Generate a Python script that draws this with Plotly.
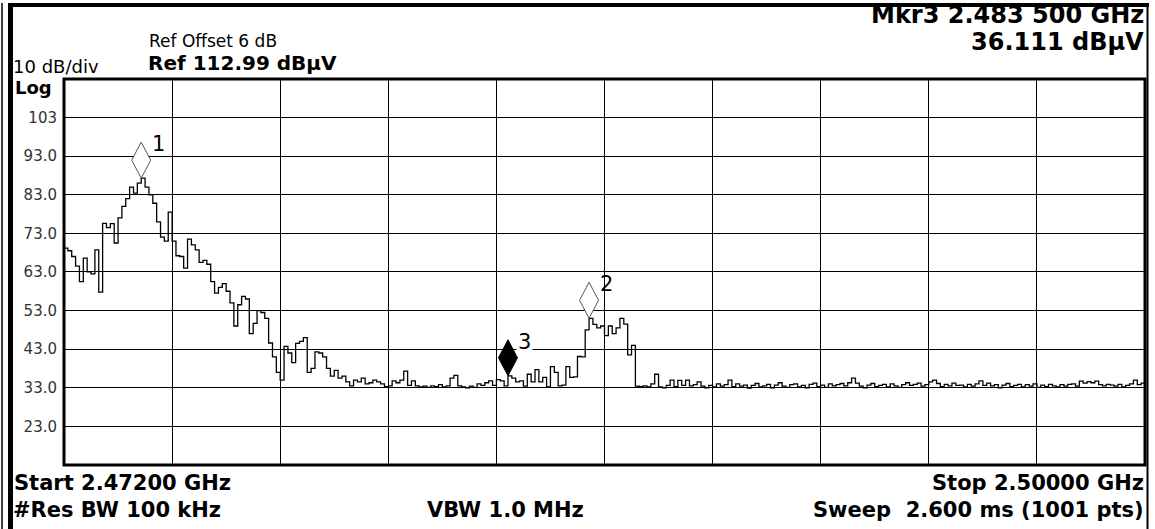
import numpy as np
import plotly.graph_objects as go

# ---------------- data ----------------
START_GHZ = 2.472
STOP_GHZ = 2.500
REF_LEVEL = 112.99
DB_PER_DIV = 10.0
N_DIV = 10

# trace level (dBuV), read every 0.1 MHz from the screen, 2472.0 ... 2500.0 MHz
level_dbuv = [
    69.2, 68.5, 67.0, 64.5, 60.5, 66.6, 63.0, 62.5, 68.7, 57.8,
    75.6, 74.5, 75.5, 70.5, 77.0, 80.0, 82.0, 85.0, 83.4, 86.0,
    87.3, 85.0, 83.0, 80.8, 76.0, 72.0, 71.0, 78.5, 71.0, 67.2,
    67.0, 64.0, 71.5, 70.0, 68.7, 65.5, 66.0, 65.0, 60.5, 57.5,
    59.0, 60.0, 58.0, 55.0, 49.0, 54.5, 56.7, 56.0, 47.0, 49.7,
    53.0, 52.5, 51.0, 44.6, 41.0, 37.0, 35.0, 43.7, 42.0, 39.5,
    44.5, 45.0, 46.0, 37.0, 38.0, 42.3, 42.0, 41.0, 38.0, 36.0,
    37.5, 35.5, 36.0, 34.5, 33.5, 35.0, 34.5, 35.5, 34.0, 34.3,
    35.0, 34.5, 34.0, 33.3, 33.5, 34.8, 34.3, 35.0, 37.3, 33.6,
    34.8, 33.5, 33.2, 33.4, 33.1, 33.5, 33.3, 33.8, 33.2, 33.5,
    35.5, 36.2, 33.5, 33.2, 33.0, 33.4, 33.1, 34.0, 33.6, 34.3,
    34.8, 33.6, 35.1, 34.8, 33.5, 36.1, 35.5, 34.5, 34.8, 33.4,
    36.5, 34.5, 37.7, 34.5, 35.7, 33.2, 38.5, 37.0, 33.5, 33.7,
    38.5, 35.7, 35.8, 41.1, 41.0, 48.0, 51.0, 49.4, 48.5, 49.0,
    46.5, 49.0, 47.0, 48.5, 51.0, 49.5, 41.5, 44.0, 33.4, 33.3,
    33.5, 33.2, 34.0, 36.5, 33.2, 33.0, 33.6, 35.0, 33.3, 34.9,
    33.6, 35.0, 33.5, 33.8, 34.5, 33.4, 33.0, 33.6, 33.2, 34.0,
    33.4, 33.8, 35.0, 33.3, 34.0, 33.4, 33.7, 32.9, 33.6, 34.1,
    33.2, 33.5, 33.9, 33.0, 33.7, 34.3, 33.4, 33.1, 33.8, 34.0,
    33.2, 33.6, 33.0, 33.9, 34.2, 33.3, 33.7, 33.1, 34.0, 33.5,
    33.8, 34.1, 33.5, 34.3, 35.5, 34.2, 33.4, 33.0, 33.7, 34.1,
    33.3, 33.6, 33.9, 33.2, 34.0, 33.5, 33.1, 33.8, 34.3, 33.6,
    33.9, 34.2, 33.4, 33.8, 34.5, 35.0, 34.1, 33.3, 33.9, 33.5,
    34.2, 33.6, 33.7, 33.2, 33.9, 33.4, 34.0, 34.8, 33.6, 34.2,
    33.5, 33.8, 33.0, 33.7, 34.1, 33.3, 33.6, 33.9, 33.2, 33.8,
    33.4, 34.0, 33.1, 33.7, 33.3, 33.9, 33.5, 33.2, 33.8, 33.4,
    33.9, 34.0, 33.4, 34.7, 34.2, 34.6, 34.3, 34.7, 33.8, 33.5,
    33.9, 33.7, 33.4, 33.9, 33.2, 33.6, 34.0, 35.0, 33.8, 34.2,
    34.4,
]
freq_ghz = np.round(np.linspace(START_GHZ, STOP_GHZ, len(level_dbuv)), 5)

marker_ids = ["1", "2", "3"]
marker_freq_ghz = [2.4740, 2.4856, 2.4835]
marker_level_dbuv = [87.3, 51.0, 36.111]
marker_filled = [False, False, True]

ytick_vals = [103, 93, 83, 73, 63, 53, 43, 33, 23]
ytick_text = ["103", "93.0", "83.0", "73.0", "63.0", "53.0", "43.0", "33.0", "23.0"]

# ---------------- layout geometry ----------------
W, H = 1155, 529
PL, PR, PT, PB = 64, 1145, 79, 465      # plot area in pixels
y_min = REF_LEVEL - DB_PER_DIV * N_DIV
y_max = REF_LEVEL
x_grid = [START_GHZ + k * (STOP_GHZ - START_GHZ) / N_DIV for k in range(1, N_DIV)]

ghz_per_px = (STOP_GHZ - START_GHZ) / (PR - PL)
db_per_px = (y_max - y_min) / (PB - PT)


def px(x):
    return (x - PL) / (PR - PL)


def py(y):
    return (PB - y) / (PB - PT)


fig = go.Figure()

# trace
fig.add_trace(go.Scatter(
    x=freq_ghz, y=level_dbuv, mode="lines",
    line=dict(color="black", width=1.3, shape="hv"),
    hoverinfo="skip", showlegend=False,
))

# diamond markers
half_w = 9.5 * ghz_per_px
full_h = 36 * db_per_px
for mid, f, lv, filled in zip(marker_ids, marker_freq_ghz, marker_level_dbuv, marker_filled):
    xs = [f, f + half_w, f, f - half_w, f]
    ys = [lv, lv + full_h / 2, lv + full_h, lv + full_h / 2, lv]
    fig.add_trace(go.Scatter(
        x=xs, y=ys, mode="lines", fill="toself",
        fillcolor="black" if filled else "white",
        line=dict(color="black" if filled else "#555", width=1),
        hoverinfo="skip", showlegend=False,
    ))
    fig.add_annotation(
        x=f, y=lv + full_h, xref="x", yref="y", text=mid, showarrow=False,
        xshift=17, yshift=-2, xanchor="center", yanchor="middle",
        font=dict(family="DejaVu Sans", size=21, color="black"),
        bgcolor="white" if filled else "rgba(0,0,0,0)",
    )

shapes = []
# frame of the plot area
shapes.append(dict(type="rect", xref="paper", yref="paper", x0=0, x1=1, y0=0, y1=1,
                   line=dict(color="black", width=3), layer="above"))
# outer screen frame
shapes.append(dict(type="line", xref="paper", yref="paper", x0=px(10.5), x1=px(10.5),
                   y0=py(3), y1=py(H + 5), line=dict(color="black", width=5)))
shapes.append(dict(type="line", xref="paper", yref="paper", x0=px(2), x1=px(2),
                   y0=py(3), y1=py(H + 5), line=dict(color="black", width=1.5)))
shapes.append(dict(type="line", xref="paper", yref="paper", x0=px(8), x1=px(1149),
                   y0=py(5), y1=py(5), line=dict(color="black", width=4)))
shapes.append(dict(type="line", xref="paper", yref="paper", x0=px(1147.5), x1=px(1147.5),
                   y0=py(4), y1=py(H + 5), line=dict(color="black", width=2)))

annots = [
    ("Ref Offset 6 dB", 147, 41, "left", 17, False),
    ("Ref 112.99 dBµV", 146, 63, "left", 20, True),
    ("10 dB/div", 11, 67, "left", 18, False),
    ("Log", 13, 88, "left", 18, True),
    ("Mkr3 2.483 500 GHz", 1146, 15, "right", 24, True),
    ("36.111 dBµV", 1146, 42, "right", 24, True),
    ("Start 2.47200 GHz", 12, 483, "left", 21, True),
    ("#Res BW 100 kHz", 11, 510, "left", 21, True),
    ("VBW 1.0 MHz", 425, 510, "left", 21, True),
    ("Stop 2.50000 GHz", 1146, 483, "right", 21, True),
    ("Sweep  2.600 ms (1001 pts)", 1146, 510, "right", 21, True),
]
for txt, x, y, anc, size, bold in annots:
    fig.add_annotation(
        x=px(x), y=py(y), xref="paper", yref="paper",
        text=f"<b>{txt}</b>" if bold else txt, showarrow=False,
        xanchor=anc, yanchor="middle",
        font=dict(family="DejaVu Sans", size=size, color="black"),
    )

fig.update_layout(
    width=W, height=H,
    margin=dict(l=PL, r=W - PR, t=PT, b=H - PB, pad=0),
    paper_bgcolor="white", plot_bgcolor="white",
    showlegend=False,
    shapes=shapes,
    xaxis=dict(
        range=[START_GHZ, STOP_GHZ], tickvals=x_grid, showticklabels=False,
        showgrid=True, gridcolor="black", gridwidth=1, zeroline=False,
        ticks="", showline=False, fixedrange=True,
    ),
    yaxis=dict(
        range=[y_min, y_max], tickvals=ytick_vals, ticktext=ytick_text,
        showgrid=True, gridcolor="black", gridwidth=1, zeroline=False,
        ticks="", ticklabelstandoff=6, showline=False, fixedrange=True,
        tickfont=dict(family="DejaVu Sans", size=15, color="#333"),
    ),
)

fig.write_html(
    "out.html",
    config={"displayModeBar": False},
    post_script="document.body.style.margin='0px';document.body.style.overflow='hidden';",
)
